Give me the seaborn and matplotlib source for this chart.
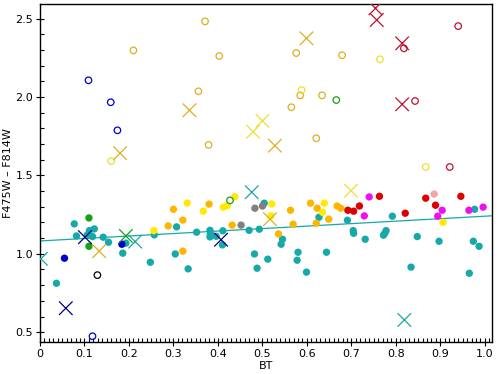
import matplotlib
matplotlib.use("Agg")
import matplotlib.pyplot as plt
from matplotlib.ticker import MultipleLocator
import seaborn as sns

# 색 그룹별 팔레트
palette = {
    "teal": "#17a9a9", "orange": "#ffb400", "yellow": "#ffea00", "grey": "#808080",
    "red": "#dd0000", "magenta": "#ee10ee", "pink": "#f4a4a4", "green": "#18a018",
    "blue": "#0000cc", "gold": "#dcb020", "lightyellow": "#ece030", "navy": "#000080",
    "darkred": "#c01030", "black": "#000000",
}

# 채워진 원 (BT, 색지수, 그룹)
fill_bt = [0.037, 0.077, 0.082, 0.111, 0.122, 0.118, 0.106, 0.142, 0.154, 0.186, 0.193,
           0.257, 0.248, 0.307, 0.304, 0.333, 0.352, 0.382, 0.383, 0.382, 0.396, 0.411,
           0.410, 0.470, 0.493, 0.504, 0.482, 0.512, 0.488, 0.545, 0.542, 0.580, 0.578,
           0.599, 0.627, 0.644, 0.691, 0.704, 0.705, 0.731, 0.772, 0.778, 0.775, 0.792,
           0.848, 0.834, 0.897, 0.977, 0.974, 0.987, 0.965,
           0.288, 0.300, 0.321, 0.321, 0.380, 0.432, 0.536, 0.563, 0.569, 0.608, 0.623,
           0.649, 0.621, 0.668, 0.676,
           0.256, 0.331, 0.367, 0.412, 0.421, 0.438, 0.521, 0.519, 0.639, 0.635, 0.906,
           0.452, 0.483, 0.500,
           0.692, 0.705, 0.718, 0.763, 0.821, 0.867, 0.889, 0.946,
           0.740, 0.729, 0.904, 0.894, 0.964, 0.996,
           0.886,
           0.110, 0.110,
           0.055, 0.184]
fill_col = [0.812, 1.191, 1.114, 1.148, 1.159, 1.110, 1.120, 1.106, 1.074, 1.004, 1.068,
            1.121, 0.946, 1.172, 0.999, 0.904, 1.138, 1.150, 1.128, 1.108, 1.112, 1.147,
            1.057, 1.150, 1.157, 1.323, 0.999, 0.966, 0.908, 1.093, 1.061, 1.010, 0.959,
            0.883, 1.233, 1.010, 1.214, 1.148, 1.131, 1.093, 1.119, 1.148, 1.131, 1.240,
            1.110, 0.915, 1.080, 1.284, 1.080, 1.048, 0.876,
            1.178, 1.284, 1.215, 1.017, 1.317, 1.183, 1.127, 1.278, 1.189, 1.323, 1.291,
            1.221, 1.195, 1.305, 1.291,
            1.148, 1.324, 1.272, 1.298, 1.307, 1.364, 1.318, 1.242, 1.323, 1.265, 1.201,
            1.183, 1.291, 1.305,
            1.278, 1.272, 1.305, 1.367, 1.259, 1.355, 1.310, 1.367,
            1.363, 1.242, 1.278, 1.240, 1.278, 1.298,
            1.381,
            1.229, 1.048,
            0.972, 1.061]
fill_grp = (["teal"] * 51 + ["orange"] * 15 + ["yellow"] * 11 + ["grey"] * 3
            + ["red"] * 8 + ["magenta"] * 6 + ["pink"] + ["green"] * 2 + ["blue"] * 2)

# 빈 원
open_bt = [0.210, 0.371, 0.403, 0.356, 0.379, 0.576, 0.679, 0.585, 0.634, 0.565, 0.621,
           0.160, 0.764, 0.588, 0.867,
           0.109, 0.159, 0.174, 0.118,
           0.818, 0.940, 0.843, 0.921,
           0.666, 0.427,
           0.129]
open_col = [2.298, 2.483, 2.262, 2.037, 1.695, 2.281, 2.267, 2.011, 2.011, 1.935, 1.737,
            1.592, 2.241, 2.045, 1.554,
            2.107, 1.967, 1.788, 0.474,
            2.311, 2.453, 1.975, 1.554,
            1.981, 1.341,
            0.864]
open_grp = (["gold"] * 11 + ["lightyellow"] * 4 + ["blue"] * 4 + ["darkred"] * 4
            + ["green"] * 2 + ["black"])

# X 표시
cross_bt = [0.180, 0.336, 0.599, 0.528, 0.517, 0.133,
            0.500, 0.479, 0.699,
            0.754, 0.757, 0.814, 0.814,
            0.058, 0.101, 0.407,
            0.002, 0.214, 0.476, 0.819,
            0.193]
cross_col = [1.642, 1.916, 2.375, 1.690, 1.221, 1.017,
             1.848, 1.779, 1.403,
             2.566, 2.492, 2.343, 1.954,
             0.653, 1.106, 1.090,
             0.968, 1.078, 1.393, 0.578,
             1.114]
cross_grp = (["gold"] * 6 + ["lightyellow"] * 3 + ["darkred"] * 4 + ["navy"] * 3
             + ["teal"] * 4 + ["green"])

# 회귀선 (절편, 기울기)
fit_intercept = 1.082
fit_slope = 0.158

x_ticks = [0, 0.1, 0.2, 0.3, 0.4, 0.5, 0.6, 0.7, 0.8, 0.9, 1.0]
x_labels = ["0", "0.1", "0.2", "0.3", "0.4", "0.5", "0.6", "0.7", "0.8", "0.9", "1.0"]
y_ticks = [0.5, 1.0, 1.5, 2.0, 2.5]
y_labels = ["0.5", "1.0", "1.5", "2.0", "2.5"]

plt.rcParams["font.family"] = ["DejaVu Sans"]

fig = plt.figure(figsize=(5, 3.74), dpi=100)
ax = fig.add_axes([0.08, 0.085, 0.904, 0.9035])

xlim = (0, 1.016)
ax.plot(xlim, [fit_intercept + fit_slope * v for v in xlim], color="#17a9a9", lw=0.9, zorder=1)

sns.scatterplot(x=fill_bt, y=fill_col, hue=fill_grp, palette=palette, marker="o",
                s=28, linewidth=0, legend=False, ax=ax, zorder=2)

sns.scatterplot(x=open_bt, y=open_col, hue=open_grp, palette=palette, marker="o",
                s=22, linewidth=0.9, legend=False, ax=ax, zorder=3)
coll = ax.collections[-1]
coll.set_edgecolors(coll.get_facecolors())
coll.set_facecolors("none")

sns.scatterplot(x=cross_bt, y=cross_col, hue=cross_grp, palette=palette, marker="x",
                s=95, linewidth=0.9, legend=False, ax=ax, zorder=4)

ax.set_xlim(*xlim)
ax.set_ylim(0.436, 2.592)
ax.set_xticks(x_ticks)
ax.set_xticklabels(x_labels)
ax.set_yticks(y_ticks)
ax.set_yticklabels(y_labels)
ax.xaxis.set_minor_locator(MultipleLocator(0.01))
ax.yaxis.set_minor_locator(MultipleLocator(0.1))
ax.tick_params(which="major", direction="inout", length=6, width=0.8, labelsize=8, pad=2)
ax.tick_params(which="minor", direction="in", length=3, width=0.8)
for sp in ax.spines.values():
    sp.set_linewidth(1.0)

ax.set_xlabel("BT", fontsize=8, labelpad=1)
ax.set_ylabel("F475W – F814W", fontsize=8, labelpad=2)

plt.savefig("out.png", dpi=100)
plt.close()
